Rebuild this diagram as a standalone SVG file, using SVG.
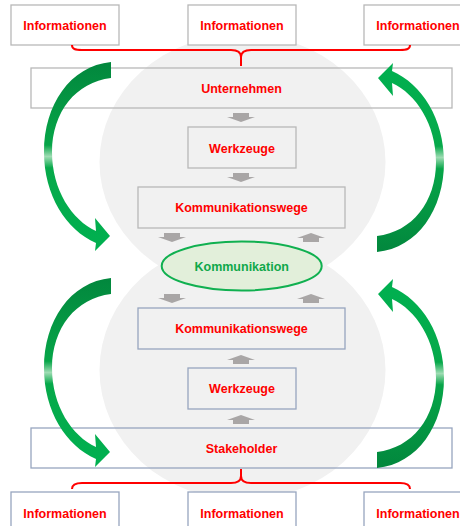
<svg xmlns="http://www.w3.org/2000/svg" width="460" height="526" viewBox="0 0 460 526">
<defs>
<style>
text{font-family:"Liberation Sans",Arial,sans-serif;font-weight:bold;font-size:12.5px;text-anchor:middle}
.red{fill:#ff0000}
.box{fill:none;stroke:#b8b8b8;stroke-width:1.3}
.boxw{fill:#ffffff;stroke:#b8b8b8;stroke-width:1.3}
.bbox{fill:none;stroke:#97a5bf;stroke-width:1.3}
.bboxw{fill:#ffffff;stroke:#97a5bf;stroke-width:1.3}
.brace{fill:none;stroke:#ff0000;stroke-width:2}
.ga{fill:#a9a6a6}
</style>
<linearGradient id="gg" x1="0" y1="0" x2="0" y2="1">
<stop offset="0" stop-color="#02873d"/>
<stop offset="0.44" stop-color="#06a548"/>
<stop offset="0.5" stop-color="#9edcb3"/>
<stop offset="0.56" stop-color="#06a94a"/>
<stop offset="1" stop-color="#00b050"/>
</linearGradient>
<path id="garrow" d="M111,62 C70,66 44,105 44,152 C44,195 66,230 96,243 L95,251 L110,236 L95,218 L96,231 C72,220 52,190 52,152 C52,112 76,82 111,78 Z" fill="url(#gg)"/>
<polygon id="down" class="ga" points="-8,0 8,0 8,4 14,4 0,9 -14,4 -8,4"/>
<polygon id="up" class="ga" points="0,0 14,5 8,5 8,9 -8,9 -8,5 -14,5"/>
</defs>
<rect width="460" height="526" fill="#ffffff"/>
<g id="background">
<ellipse cx="242.5" cy="162" rx="143" ry="128" fill="#f1f1f1"/>
<ellipse cx="242.5" cy="370" rx="143" ry="130" fill="#f1f1f1"/>
</g>
<g id="info-top-1"><rect class="boxw" x="11" y="5" width="108" height="40"/><text class="red" x="65" y="30">Informationen</text></g>
<g id="info-top-2"><rect class="boxw" x="188" y="5" width="108" height="40"/><text class="red" x="242" y="30">Informationen</text></g>
<g id="info-top-3"><rect class="boxw" x="364" y="5" width="108" height="40"/><text class="red" x="418" y="30">Informationen</text></g>
<g id="unternehmen"><rect class="box" x="31" y="68" width="421" height="40"/><text class="red" x="241.5" y="93">Unternehmen</text></g>
<g id="werkzeuge-top"><rect class="box" x="188" y="127" width="108" height="41"/><text class="red" x="242" y="152.5">Werkzeuge</text></g>
<g id="kw-top"><rect class="box" x="138" y="187" width="207" height="41"/><text class="red" x="241.5" y="212">Kommunikationswege</text></g>
<g id="kommunikation"><ellipse cx="241.7" cy="266" rx="80" ry="24.5" fill="#e2efda" stroke="#10b050" stroke-width="2"/><text x="241.7" y="270.5" fill="#10a84a">Kommunikation</text></g>
<g id="kw-bottom"><rect class="bbox" x="138" y="308" width="207" height="41"/><text class="red" x="241.5" y="333">Kommunikationswege</text></g>
<g id="werkzeuge-bottom"><rect class="bbox" x="188" y="368" width="108" height="41"/><text class="red" x="242" y="393">Werkzeuge</text></g>
<g id="stakeholder"><rect class="bbox" x="31" y="428" width="421" height="40"/><text class="red" x="241.5" y="452.5">Stakeholder</text></g>
<g id="info-bottom-1"><rect class="bboxw" x="11" y="492" width="108" height="40"/><text class="red" x="65" y="518">Informationen</text></g>
<g id="info-bottom-2"><rect class="bboxw" x="188" y="492" width="108" height="40"/><text class="red" x="242" y="518">Informationen</text></g>
<g id="info-bottom-3"><rect class="bboxw" x="364" y="492" width="108" height="40"/><text class="red" x="418" y="518">Informationen</text></g>
<g id="connectors">
<path class="brace" d="M72,45 C72,49 75,50 82,50 L231,50 C238,50 241,52 241,57 L241,66 M241,57 C241,52 244,50 251,50 L400,50 C407,50 410,49 410,45"/>
<path class="brace" d="M72,489 C72,485 75,483 82,483 L231,483 C238,483 241,481 241,476 L241,469 M241,476 C241,481 244,483 251,483 L400,483 C407,483 410,485 410,489"/>
<use href="#down" x="241" y="113"/>
<use href="#down" x="241" y="173"/>
<use href="#down" x="172" y="233"/>
<use href="#up" x="311" y="233"/>
<use href="#down" x="172" y="294"/>
<use href="#up" x="311" y="294"/>
<use href="#up" x="241" y="355"/>
<use href="#up" x="241" y="415"/>
<use href="#garrow"/>
<use href="#garrow" transform="rotate(180 244 157)"/>
<use href="#garrow" transform="translate(0 216)"/>
<use href="#garrow" transform="translate(0 216) rotate(180 244 157)"/>
</g>
</svg>
